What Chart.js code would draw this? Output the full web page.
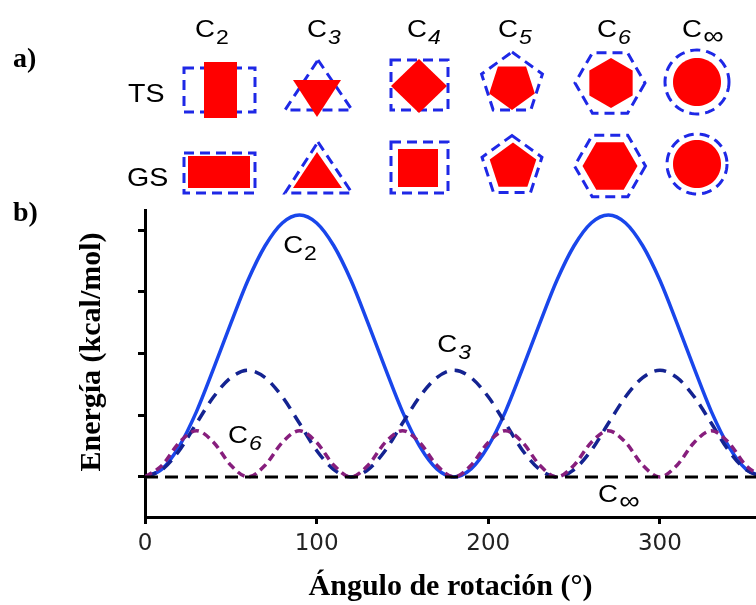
<!DOCTYPE html>
<html>
<head>
<meta charset="utf-8">
<script src="https://cdn.jsdelivr.net/npm/chart.js@4"></script>
<style>
  html, body { margin: 0; padding: 0; background: #fff; }
  canvas { display: block; }
</style>
</head>
<body>
<canvas id="grafico" width="756" height="605"></canvas>
<script>
// ângulos de rotação (graus) e energias (kcal/mol)
const angulos = [0, 10, 20, 30, 40, 50, 60, 70, 80, 90, 100, 110, 120, 130, 140, 150, 160, 170, 180,
                 190, 200, 210, 220, 230, 240, 250, 260, 270, 280, 290, 300, 310, 320, 330, 340, 350, 360];
const energiaC2 = [0, 0.13, 0.50, 1.06, 1.76, 2.49, 3.19, 3.75, 4.12, 4.25, 4.12, 3.75, 3.19, 2.49, 1.76, 1.06, 0.50, 0.13, 0,
                   0.13, 0.50, 1.06, 1.76, 2.49, 3.19, 3.75, 4.12, 4.25, 4.12, 3.75, 3.19, 2.49, 1.76, 1.06, 0.50, 0.13, 0];
const energiaC3 = [0, 0.12, 0.43, 0.87, 1.30, 1.61, 1.73, 1.61, 1.30, 0.87, 0.43, 0.12, 0,
                   0.12, 0.43, 0.87, 1.30, 1.61, 1.73, 1.61, 1.30, 0.87, 0.43, 0.12, 0,
                   0.12, 0.43, 0.87, 1.30, 1.61, 1.73, 1.61, 1.30, 0.87, 0.43, 0.12, 0];
const energiaC6 = [0, 0.19, 0.56, 0.75, 0.56, 0.19, 0, 0.19, 0.56, 0.75, 0.56, 0.19, 0,
                   0.19, 0.56, 0.75, 0.56, 0.19, 0, 0.19, 0.56, 0.75, 0.56, 0.19, 0,
                   0.19, 0.56, 0.75, 0.56, 0.19, 0, 0.19, 0.56, 0.75, 0.56, 0.19, 0];
const angulosCInf = [0, 360];
const energiaCInf = [0, 0];

const ticksX = [0, 100, 200, 300];
const ticksY = [0, 1, 2, 3, 4];
const simetrias = ['2', '3', '4', '5', '6', '∞'];

// onde ficam os rótulos C_n dentro do gráfico (em unidades dos eixos)
const rotulosCurvas = [
    { sub: '2', ang: 80.5, en: 3.63 },
    { sub: '3', ang: 170.3, en: 2.03 },
    { sub: '6', ang: 48.4, en: 0.55 },
    { sub: '∞', ang: 264, en: -0.405 }
];

function pontos(xs, ys) {
    return xs.map((x, i) => ({ x: x, y: ys[i] }));
}

function textoEsticado(ctx, texto, x, y, fonte, esticar) {
    ctx.save();
    ctx.font = fonte;
    ctx.translate(x, y);
    ctx.scale(esticar, 1);
    ctx.fillText(texto, 0, 0);
    const largura = ctx.measureText(texto).width * esticar;
    ctx.restore();
    return largura;
}

function rotuloC(ctx, x, y, sub, tamanho) {
    const w = textoEsticado(ctx, 'C', x, y, tamanho + 'px "Liberation Sans", Arial', 1.15);
    const estilo = sub === '2' ? '' : 'italic ';
    const t = sub === '∞' ? Math.round(tamanho * 1.05) : Math.round(tamanho * 0.85);
    textoEsticado(ctx, sub, x + w + 1, y + tamanho * 0.3, estilo + t + 'px "Liberation Sans", Arial', 1.15);
}

function caminho(ctx, pts) {
    ctx.beginPath();
    pts.forEach((p, i) => i ? ctx.lineTo(p[0], p[1]) : ctx.moveTo(p[0], p[1]));
    ctx.closePath();
}

function regular(cx, cy, r, n, ang0) {
    const pts = [];
    for (let k = 0; k < n; k++) {
        const a = ang0 + k * 2 * Math.PI / n;
        pts.push([cx + r * Math.cos(a), cy + r * Math.sin(a)]);
    }
    return pts;
}

function ret(x0, y0, x1, y1) {
    return [[x0, y0], [x1, y0], [x1, y1], [x0, y1]];
}

function cheio(ctx, pts) {
    caminho(ctx, pts);
    ctx.fillStyle = '#ff0000';
    ctx.fill();
}

function tracejado(ctx, pts) {
    caminho(ctx, pts);
    ctx.strokeStyle = '#1e28e6';
    ctx.lineWidth = 3;
    ctx.setLineDash([10, 6]);
    ctx.stroke();
    ctx.setLineDash([]);
}

const painelA = {
    id: 'painelA',
    afterDraw(chart) {
        const ctx = chart.ctx;
        const cima = -Math.PI / 2, baixo = Math.PI / 2;
        ctx.save();
        ctx.fillStyle = '#000';
        ctx.textBaseline = 'alphabetic';
        textoEsticado(ctx, 'a)', 13, 67, 'bold 28px "Liberation Serif"', 1);
        textoEsticado(ctx, 'b)', 13, 221, 'bold 28px "Liberation Serif"', 1);
        textoEsticado(ctx, 'TS', 128, 102, '26px "Liberation Sans"', 1.1);
        textoEsticado(ctx, 'GS', 127, 186, '26px "Liberation Sans"', 1.1);

        const colunasC = [195, 307, 407, 498, 597, 682];
        simetrias.forEach((s, i) => { ctx.fillStyle = '#000'; rotuloC(ctx, colunasC[i], 37, s, 24); });

        // C2
        tracejado(ctx, ret(184, 68, 255, 112)); cheio(ctx, ret(204, 62, 237, 118));
        tracejado(ctx, ret(184, 153, 255, 193)); cheio(ctx, ret(188, 156, 250, 188));
        // C3
        tracejado(ctx, [[318, 60], [352, 110], [285, 110]]); cheio(ctx, [[293, 80], [341, 80], [317, 117]]);
        tracejado(ctx, [[318, 142], [352, 193], [285, 193]]); cheio(ctx, [[317, 152], [342, 188], [293, 188]]);
        // C4
        tracejado(ctx, ret(391, 60, 448, 110)); cheio(ctx, [[419, 59], [447, 86], [419, 113], [391, 86]]);
        tracejado(ctx, ret(391, 142, 448, 193)); cheio(ctx, ret(398, 149, 438, 187));
        // C5
        tracejado(ctx, regular(512, 84, 32, 5, cima)); cheio(ctx, regular(512, 86, 24, 5, baixo));
        tracejado(ctx, regular(512, 167, 31.5, 5, cima)); cheio(ctx, regular(513, 167, 24.5, 5, cima));
        // C6
        tracejado(ctx, regular(610, 83, 35, 6, 0)); cheio(ctx, regular(611, 83, 25, 6, cima));
        tracejado(ctx, regular(610, 166, 35.5, 6, 0)); cheio(ctx, regular(610, 166, 27.5, 6, 0));
        // C infinito
        tracejado(ctx, regular(697, 82, 32, 72, 0)); cheio(ctx, regular(697, 82, 24, 72, 0));
        tracejado(ctx, regular(697, 164, 30, 72, 0)); cheio(ctx, regular(697, 164, 24, 72, 0));

        // título do eixo y
        ctx.save();
        ctx.fillStyle = '#000';
        ctx.translate(92, 352);
        ctx.rotate(-Math.PI / 2);
        ctx.font = 'bold 30px "Liberation Serif"';
        ctx.textAlign = 'center';
        ctx.textBaseline = 'middle';
        ctx.fillText('Energía (kcal/mol)', 0, 0);
        ctx.restore();

        const sx = chart.scales.x, sy = chart.scales.y;
        ctx.fillStyle = '#000';
        rotulosCurvas.forEach(r => rotuloC(ctx, sx.getPixelForValue(r.ang), sy.getPixelForValue(r.en), r.sub, 24));
        ctx.restore();
    }
};

const estiloLinha = { pointRadius: 0, fill: false, cubicInterpolationMode: 'monotone' };

new Chart(document.getElementById('grafico'), {
    type: 'line',
    data: {
        datasets: [
            Object.assign({ label: 'C∞', data: pontos(angulosCInf, energiaCInf), borderColor: '#000', borderWidth: 3, borderDash: [13, 7] }, estiloLinha),
            Object.assign({ label: 'C6', data: pontos(angulos, energiaC6), borderColor: 'rgb(135, 30, 125)', borderWidth: 3.5, borderDash: [8, 5] }, estiloLinha),
            Object.assign({ label: 'C3', data: pontos(angulos, energiaC3), borderColor: 'rgb(20, 35, 145)', borderWidth: 3.5, borderDash: [12, 8] }, estiloLinha),
            Object.assign({ label: 'C2', data: pontos(angulos, energiaC2), borderColor: 'rgb(25, 70, 235)', borderWidth: 3.5 }, estiloLinha)
        ]
    },
    options: {
        responsive: false,
        animation: false,
        layout: { padding: { top: 210, left: 0, right: 0, bottom: 0 } },
        plugins: {
            legend: { display: false },
            tooltip: { enabled: false }
        },
        scales: {
            x: {
                type: 'linear',
                min: 0,
                max: 356,
                afterBuildTicks: s => { s.ticks = ticksX.map(v => ({ value: v })); },
                afterFit: s => { s.height = 88; },
                grid: { display: true, drawOnChartArea: false, drawTicks: true, tickLength: 7, color: '#000', lineWidth: 3 },
                border: { display: true, color: '#000', width: 3 },
                ticks: {
                    padding: 6,
                    color: '#222',
                    font: { family: '"DejaVu Sans"', size: 23 }
                },
                title: {
                    display: true,
                    text: 'Ángulo de rotación (°)',
                    color: '#000',
                    font: { family: '"Liberation Serif"', weight: 'bold', size: 30 },
                    padding: { top: 0, bottom: 0 }
                }
            },
            y: {
                min: -0.65,
                max: 4.33,
                afterBuildTicks: s => { s.ticks = ticksY.map(v => ({ value: v })); },
                afterFit: s => { s.width = 145; },
                grid: { display: true, drawOnChartArea: false, drawTicks: true, tickLength: 7, color: '#000', lineWidth: 3 },
                border: { display: true, color: '#000', width: 3 },
                ticks: { display: false }
            }
        }
    },
    plugins: [painelA]
});
</script>
</body>
</html>
